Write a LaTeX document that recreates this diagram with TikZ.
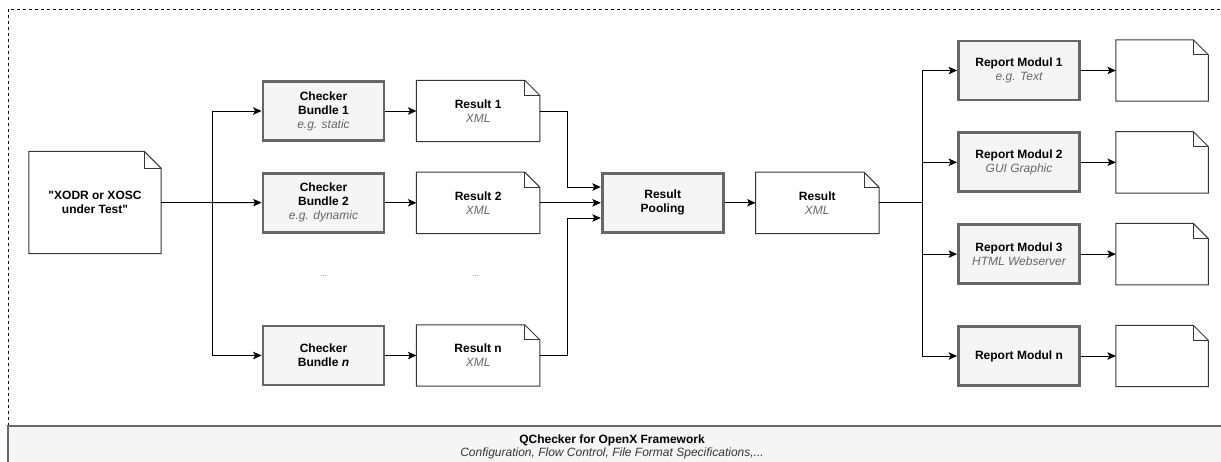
\documentclass[tikz,border=0pt]{standalone}
\usepackage{xcolor}
\usepackage{fontspec}
\setmainfont{Liberation Sans}[Ligatures=TeXOff]
\usepackage{tikz}
\usetikzlibrary{shapes,positioning,arrows,arrows.meta}

\definecolor{boxgray}{HTML}{F5F5F5}
\definecolor{linegray}{HTML}{666666}
\definecolor{docgray}{HTML}{363636}

% folded page drawn round a node
\newcommand{\docframe}[2][15pt]{%
	\draw[docgray, line width=1pt] (#2.north west) -- ([xshift=-#1]#2.north east) -- ([yshift=-#1]#2.north east) -- (#2.south east) -- (#2.south west) -- cycle;
	\draw[docgray, line width=1pt] ([xshift=-#1]#2.north east) |- ([yshift=-#1]#2.north east);
}
\newcommand{\sub}[1]{{\normalfont\itshape\color{linegray}#1}}

\begin{document}
\begin{tikzpicture}[x=1pt, y=-1pt, >={Stealth[length=8.5pt, width=7.5pt, inset=2pt]},
	every node/.style={font=\fontsize{12}{14}\selectfont, align=center, inner sep=0pt},
	block/.style={draw=linegray, fill=boxgray, line width=2.8pt, minimum width=121pt, minimum height=59pt, font=\fontsize{12}{14}\selectfont\bfseries},
	doc/.style={minimum width=123pt, minimum height=61pt, font=\fontsize{12}{14}\selectfont\bfseries},
	outdoc/.style={minimum width=92pt, minimum height=61pt},
	link/.style={->, line width=1pt}]
	\useasboundingbox (0,0) rectangle (1221,461);
	\clip (0,0) rectangle (1221,461);

	% frame and framework bar
	\draw[dashed, line width=0.8pt] (8,426) -- (8,9) -- (1240,9);
	\draw[draw=linegray, fill=boxgray, line width=2.8pt] (8,426) rectangle (1240,490);
	\node(Framework) at (612,446.5) {\textbf{QChecker for OpenX Framework}\\[-1pt]{\itshape\color{docgray} Configuration, Flow Control, File Format Specifications,...}};

	% input
	\node[minimum width=132pt, minimum height=102pt, font=\fontsize{12}{14}\selectfont\bfseries](Input) at (95,202.5) {"XODR or XOSC\\under Test"};
	\docframe[17pt]{Input}

	% checker bundles
	\node[block](Bundle1) at (323.5,111) {Checker\\Bundle 1\\\sub{e.g. static}};
	\node[block, below=30pt of Bundle1](Bundle2) {Checker\\Bundle 2\\\sub{e.g. dynamic}};
	\node[block](BundleN) at (323.5,355.5) {Checker\\Bundle \textit{n}};
	\node[text=linegray, font=\fontsize{8}{10}\selectfont](DotsB) at (323.5,276) {...};

	% results
	\node[doc, right=31pt of Bundle1](Result1) {Result 1\\\sub{XML}};
	\node[doc, right=31pt of Bundle2](Result2) {Result 2\\\sub{XML}};
	\node[doc, right=31pt of BundleN](ResultN) {Result n\\\sub{XML}};
	\node[text=linegray, font=\fontsize{8}{10}\selectfont](DotsR) at (475.5,276) {...};
	\docframe{Result1}
	\docframe{Result2}
	\docframe{ResultN}

	% pooling
	\node[block, right=61pt of Result2](Pool) {Result\\Pooling};
	\node[doc, right=31pt of Pool](Pooled) {Result\\\sub{XML}};
	\docframe{Pooled}

	% report modules
	\node[block](Report1) at (1019,70.5) {Report Modul 1\\\sub{e.g. Text}};
	\node[block, below=30pt of Report1](Report2) {Report Modul 2\\\sub{GUI Graphic}};
	\node[block, below=30pt of Report2](Report3) {Report Modul 3\\\sub{HTML Webserver}};
	\node[block](ReportN) at (1019,356) {Report Modul n};

	\node[outdoc, right=35pt of Report1](Out1) {};
	\node[outdoc, right=35pt of Report2](Out2) {};
	\node[outdoc, right=35pt of Report3](Out3) {};
	\node[outdoc, right=35pt of ReportN](OutN) {};
	\foreach \o in {Out1,Out2,Out3,OutN} {\docframe{\o}}

	% connectors
	\coordinate[right=51pt of Input.east] (Split);
	\draw[line width=1pt] (Input) -- (Split);
	\draw[link] (Split) |- (Bundle1);
	\draw[link] (Split) -- (Bundle2);
	\draw[link] (Split) |- (BundleN);
	\draw[link] (Bundle1) edge (Result1) (Bundle2) edge (Result2) (BundleN) edge (ResultN);

	\coordinate (Merge1) at (567,187);
	\coordinate (MergeN) at (567,218);
	\draw[link] (Result1.east) -| (Merge1) -- (Merge1 -| Pool.west);
	\draw[link] (Result2) -- (Pool);
	\draw[link] (ResultN.east) -| (MergeN) -- (MergeN -| Pool.west);
	\draw[link] (Pool) -- (Pooled);

	\coordinate[right=43pt of Pooled.east] (Fan);
	\draw[line width=1pt] (Pooled) -- (Fan);
	\foreach \r in {Report1,Report2,Report3,ReportN} {
		\draw[link] (Fan) |- (\r.west);
	}
	\draw[link] (Report1) edge (Out1) (Report2) edge (Out2) (Report3) edge (Out3) (ReportN) edge (OutN);
\end{tikzpicture}
\end{document}
